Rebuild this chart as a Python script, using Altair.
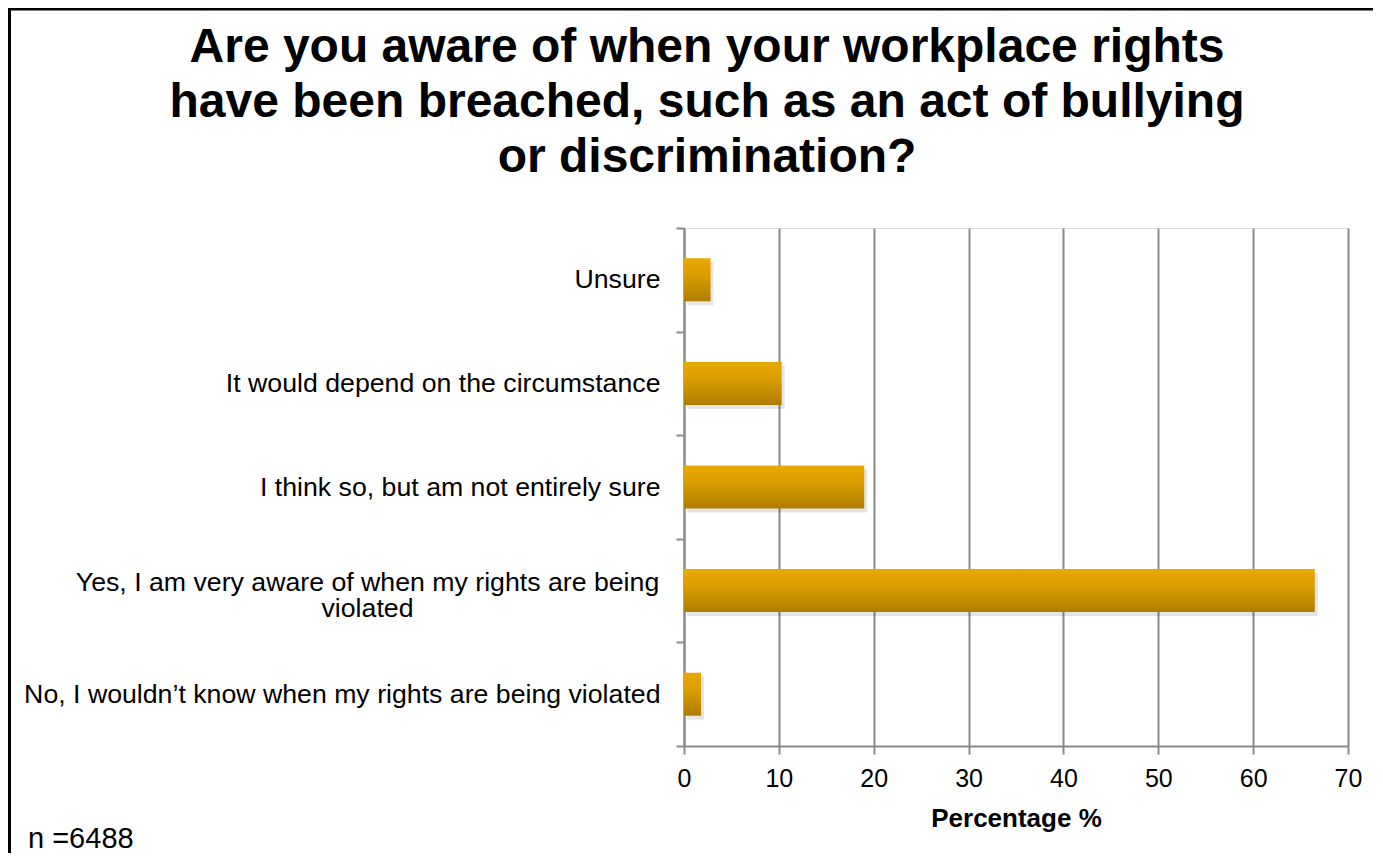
import altair as alt
import pandas as pd

categories = [
    "Unsure",
    "It would depend on the circumstance",
    "I think so, but am not entirely sure",
    "Yes, I am very aware of when my rights are being violated",
    "No, I wouldn\u2019t know when my rights are being violated",
]
values = [2.8, 10.3, 19.0, 66.5, 1.8]
wrapped_label = "Yes, I am very aware of when my rights are being|violated"
x_ticks = [0, 10, 20, 30, 40, 50, 60, 70]
title_lines = [
    "Are you aware of when your workplace rights",
    "have been breached, such as an act of bullying",
    "or discrimination?",
]
x_title = "Percentage %"
n_text = "n =6488"

df = pd.DataFrame({"category": categories, "value": values})

FONT = "Liberation Sans, Arial, sans-serif"
GRAY = "#8a8a8a"
W, H = 664, 518
LABEL_SIZE = 26.7

y_enc = alt.Y(
    "category:N",
    sort=categories,
    scale=alt.Scale(paddingInner=0, paddingOuter=0),
    axis=alt.Axis(
        title=None,
        tickBand="extent",
        labelExpr=f"datum.label == '{categories[3]}' ? '' : datum.label",
        labelFont=FONT,
        labelFontSize=LABEL_SIZE,
        labelColor="#000000",
        labelPadding=16,
        labelLimit=700,
        tickSize=8,
        tickColor=GRAY,
        tickWidth=2,
        domainColor=GRAY,
        domainWidth=2,
        grid=False,
    ),
)
x_enc = alt.X(
    "value:Q",
    scale=alt.Scale(domain=[0, 70], nice=False),
    axis=alt.Axis(
        title=x_title,
        values=x_ticks,
        titleFont=FONT,
        titleFontSize=26,
        titleFontWeight="bold",
        titleColor="#000000",
        titlePadding=14,
        labelFont=FONT,
        labelFontSize=25,
        labelColor="#000000",
        labelPadding=12,
        labelFlush=False,
        tickSize=8,
        tickColor=GRAY,
        tickWidth=2,
        domainColor=GRAY,
        domainWidth=2,
        grid=True,
        gridColor=GRAY,
        gridWidth=2,
    ),
)

gradient = alt.Gradient(
    gradient="linear",
    stops=[
        alt.GradientStop(color="#E8A900", offset=0),
        alt.GradientStop(color="#DA9E00", offset=0.4),
        alt.GradientStop(color="#AE7C00", offset=1),
    ],
    x1=0, x2=0, y1=0, y2=1,
)

shadow = alt.Chart(df).mark_bar(
    color="#000000", opacity=0.10, xOffset=3, yOffset=4, size=43
).encode(x=x_enc, y=y_enc)

bars = alt.Chart(df).mark_bar(color=gradient, size=43).encode(x=x_enc, y=y_enc)

wrapped = (
    alt.Chart(df)
    .transform_filter(alt.datum.category == categories[3])
    .transform_calculate(lbl=f"'{wrapped_label}'")
    .mark_text(
        font=FONT, fontSize=LABEL_SIZE, align="center", baseline="middle",
        lineBreak="|", lineHeight=26, color="#000000", dy=-8,
    )
    .encode(text="lbl:N", y=y_enc, x=alt.value(-316.5))
)

deco = pd.DataFrame({"t": [n_text], "title": ["|".join(title_lines)]})
top_rule = alt.Chart(deco).mark_rule(color="#000000", strokeWidth=4).encode(
    x=alt.value(-676), x2=alt.value(W + 40), y=alt.value(-219.5)
)
left_rule = alt.Chart(deco).mark_rule(color="#000000", strokeWidth=4).encode(
    x=alt.value(-675), y=alt.value(-220), y2=alt.value(H + 110)
)
n_label = alt.Chart(deco).mark_text(
    font=FONT, fontSize=29, align="left", baseline="alphabetic", color="#000000"
).encode(text="t:N", x=alt.value(-656), y=alt.value(620))
title_text = alt.Chart(deco).mark_text(
    font=FONT, fontSize=48, fontWeight="bold", align="center", baseline="alphabetic",
    lineBreak="|", lineHeight=55, color="#000000",
).encode(text="title:N", x=alt.value(23), y=alt.value(-166))

chart = (
    alt.layer(shadow, bars, wrapped, top_rule, left_rule, n_label, title_text)
    .properties(
        width=W,
        height=H,
        autosize=alt.AutoSizeParams(type="none"),
        padding={"left": 676, "top": 220, "right": 25, "bottom": 107},
    )
    .configure_view(stroke=None)
    .configure(background="#ffffff")
)

chart.save("out.html", embed_options={"renderer": "svg", "actions": False})
